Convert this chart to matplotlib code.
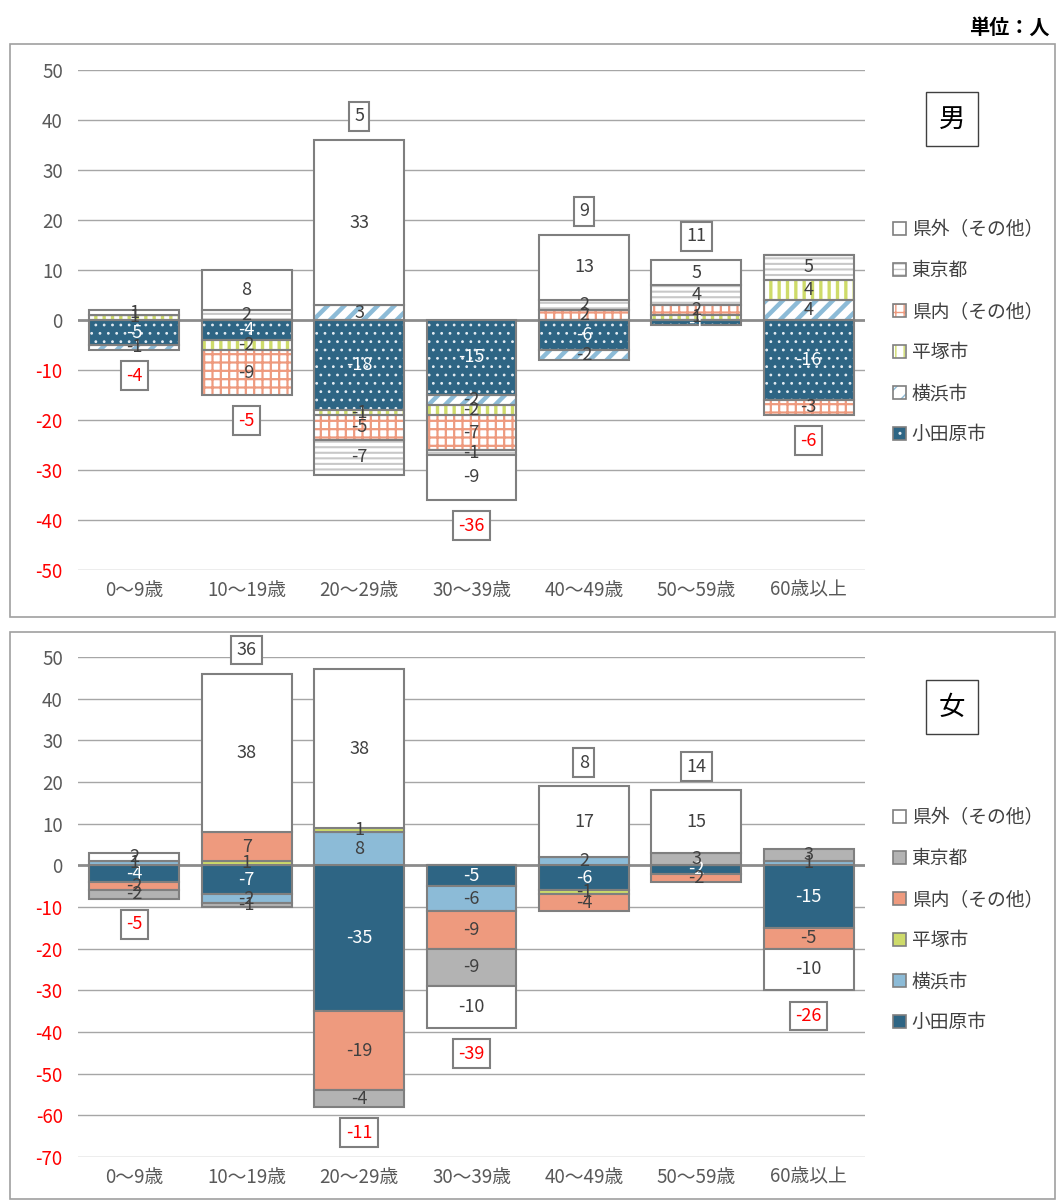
import matplotlib
matplotlib.use("Agg")
import matplotlib.pyplot as plt
import numpy as np
from matplotlib.patches import Patch, Rectangle
from matplotlib.legend_handler import HandlerTuple

plt.rcParams['font.family'] = ['Noto Sans CJK JP', 'DejaVu Sans']

categories = ["0〜9歳", "10〜19歳", "20〜29歳", "30〜39歳", "40〜49歳", "50〜59歳", "60歳以上"]
series_names = ["小田原市", "横浜市", "平塚市", "県内(その他)", "東京都", "県外(その他)"]
legend_labels = ["小田原市", "横浜市", "平塚市", "県内（その他）", "東京都", "県外（その他）"]

# male values per series (order matches series_names)
male_odawara = [-5, -4, -18, -15, -6, -1, -16]
male_yokohama = [-1, 0, 3, -2, -2, 0, 4]
male_hiratsuka = [1, -2, -1, -2, 0, 1, 4]
male_kennai = [0, -9, -5, -7, 2, 2, -3]
male_tokyo = [0, 2, -7, -1, 2, 4, 5]
male_kengai = [1, 8, 33, -9, 13, 5, 0]

female_odawara = [-4, -7, -35, -5, -6, -2, -15]
female_yokohama = [1, -2, 8, -6, 2, 0, 1]
female_hiratsuka = [0, 1, 1, 0, -1, 0, 0]
female_kennai = [-2, 7, -19, -9, -4, -2, -5]
female_tokyo = [-2, -1, -4, -9, 0, 3, 3]
female_kengai = [2, 38, 38, -10, 17, 15, -10]

male = [male_odawara, male_yokohama, male_hiratsuka, male_kennai, male_tokyo, male_kengai]
female = [female_odawara, female_yokohama, female_hiratsuka, female_kennai, female_tokyo, female_kengai]

W, H = 1056, 1200
fig = plt.figure(figsize=(W / 100, H / 100), dpi=100)

DARK = "#2E6584"
LBLUE = "#8CBBD7"
YG = "#CEDB6A"
SALMON = "#EE9A7E"
GREY = "#B3B3B3"
EDGE = "#7F7F7F"
LABC = "#404040"

# male: (face, hatchcolor, hatch, hatch linewidth)
male_styles = [
    (DARK, "#E4ECF2", "..", 0.8),
    ("#FFFFFF", LBLUE, "//", 3.2),
    ("#FFFFFF", YG, "||", 2.4),
    ("#FFFFFF", SALMON, "++", 1.6),
    ("#FFFFFF", "#C8C8C8", "---", 1.5),
    ("#FFFFFF", None, None, 1.0),
]
female_styles = [
    (DARK, None, None, 1.0),
    (LBLUE, None, None, 1.0),
    (YG, None, None, 1.0),
    (SALMON, None, None, 1.0),
    (GREY, None, None, 1.0),
    ("#FFFFFF", None, None, 1.0),
]


def set_hlw(patches, lw):
    for p in patches:
        if hasattr(p, "set_hatch_linewidth"):
            p.set_hatch_linewidth(lw)


def px2fig(x0, y0, x1, y1):
    return [x0 / W, 1 - y1 / H, (x1 - x0) / W, (y1 - y0) / H]


def draw_panel(ax, data, styles, ylim, yticks, sexlabel, sexpos):
    x = np.arange(len(categories))
    pos = np.zeros(len(categories))
    neg = np.zeros(len(categories))
    for i, vals in enumerate(data):
        v = np.array(vals, dtype=float)
        bottoms = np.where(v >= 0, pos, neg)
        face, hc, h, hlw = styles[i]
        if h is not None:
            with plt.rc_context({'hatch.linewidth': hlw}):
                bars = ax.bar(x, v, 0.8, bottom=bottoms, facecolor=face, edgecolor=hc,
                              hatch=h, linewidth=0, zorder=2)
            set_hlw(bars.patches, hlw)
            ax.bar(x, v, 0.8, bottom=bottoms, fill=False, edgecolor=EDGE,
                   linewidth=1.5, zorder=3)
        else:
            ax.bar(x, v, 0.8, bottom=bottoms, facecolor=face, edgecolor=EDGE,
                   linewidth=1.5, zorder=3)
        tc = "white" if i == 0 else LABC
        for xi, vi, bi in zip(x, v, bottoms):
            if vi != 0:
                ax.text(xi, bi + vi / 2, f"{int(vi)}", ha="center", va="center",
                        fontsize=13, color=tc, zorder=5)
        pos = pos + np.where(v > 0, v, 0)
        neg = neg + np.where(v < 0, v, 0)
    totals = pos + neg
    for xi, t, p, n in zip(x, totals, pos, neg):
        if t >= 0:
            yref, off = p, 17
        else:
            yref, off = n, -18.5
        ax.annotate(f"{int(t)}", (xi, yref), xytext=(0, off), textcoords="offset points",
                    ha="center", va="center", fontsize=13,
                    color="red" if t < 0 else "#404040", zorder=6,
                    bbox=dict(boxstyle="square,pad=0.3", fc="white", ec=EDGE, lw=1.5))
    ax.set_xlim(-0.5, len(categories) - 0.5)
    ax.set_ylim(*ylim)
    ax.set_yticks(yticks)
    ax.set_yticklabels([str(t) for t in yticks])
    for lab, t in zip(ax.get_yticklabels(), yticks):
        lab.set_color("red" if t < 0 else "#595959")
    ax.set_xticks(x)
    ax.set_xticklabels(categories, color="#595959")
    ax.tick_params(axis="y", length=0, labelsize=13.5, pad=11)
    ax.tick_params(axis="x", length=0, labelsize=13.5, pad=7)
    for s in ax.spines.values():
        s.set_visible(False)
    for t in yticks:
        if t == 0:
            ax.axhline(0, color="#8C8C8C", lw=2, zorder=1)
        else:
            ax.axhline(t, color="#A6A6A6", lw=1, zorder=1)
    ax.set_axisbelow(True)
    fig.text(sexpos[0] / W, 1 - sexpos[1] / H, sexlabel, fontsize=19, ha="center", va="center",
             color="#000000",
             bbox=dict(boxstyle="square,pad=0.5", fc="white", ec="#404040", lw=1))


# panel borders
fig.patches.append(Rectangle((10 / W, 1 - 617 / H), 1045 / W, 573 / H, transform=fig.transFigure,
                             fill=False, ec="#A0A0A0", lw=1.2))
fig.patches.append(Rectangle((10 / W, 1 - 1199 / H), 1045 / W, 567 / H, transform=fig.transFigure,
                             fill=False, ec="#A0A0A0", lw=1.2))

ax1 = fig.add_axes(px2fig(78, 70, 865, 570))
draw_panel(ax1, male, male_styles, (-50, 50), list(range(50, -51, -10)), "男", (952, 119))

ax2 = fig.add_axes(px2fig(78, 657, 865, 1157))
draw_panel(ax2, female, female_styles, (-70, 50), list(range(50, -71, -10)), "女", (952, 707))


def make_handles(styles):
    hs = []
    for face, hc, h, hlw in styles:
        if h is not None:
            with plt.rc_context({'hatch.linewidth': hlw}):
                p = Patch(facecolor=face, edgecolor=hc, hatch=h, lw=0)
            set_hlw([p], hlw)
            hs.append((p, Patch(fill=False, edgecolor=EDGE, lw=1.2)))
        else:
            hs.append(Patch(facecolor=face, edgecolor=EDGE, lw=1.2))
    return hs[::-1]


for styles, ytop in ((male_styles, 202), (female_styles, 790)):
    hs = make_handles(styles)
    fig.legend(hs, legend_labels[::-1], loc="upper left",
               bbox_to_anchor=(876 / W, 1 - ytop / H), frameon=False,
               fontsize=13.5, handlelength=0.7, handleheight=0.7, handletextpad=0.3,
               labelspacing=1.07, labelcolor="#404040",
               handler_map={tuple: HandlerTuple(ndivide=1, pad=0)})

fig.text(1050 / W, 1 - 27 / H, "単位：人", fontsize=14.5, fontweight="bold", ha="right", va="center")

fig.savefig("out.png", dpi=100)
